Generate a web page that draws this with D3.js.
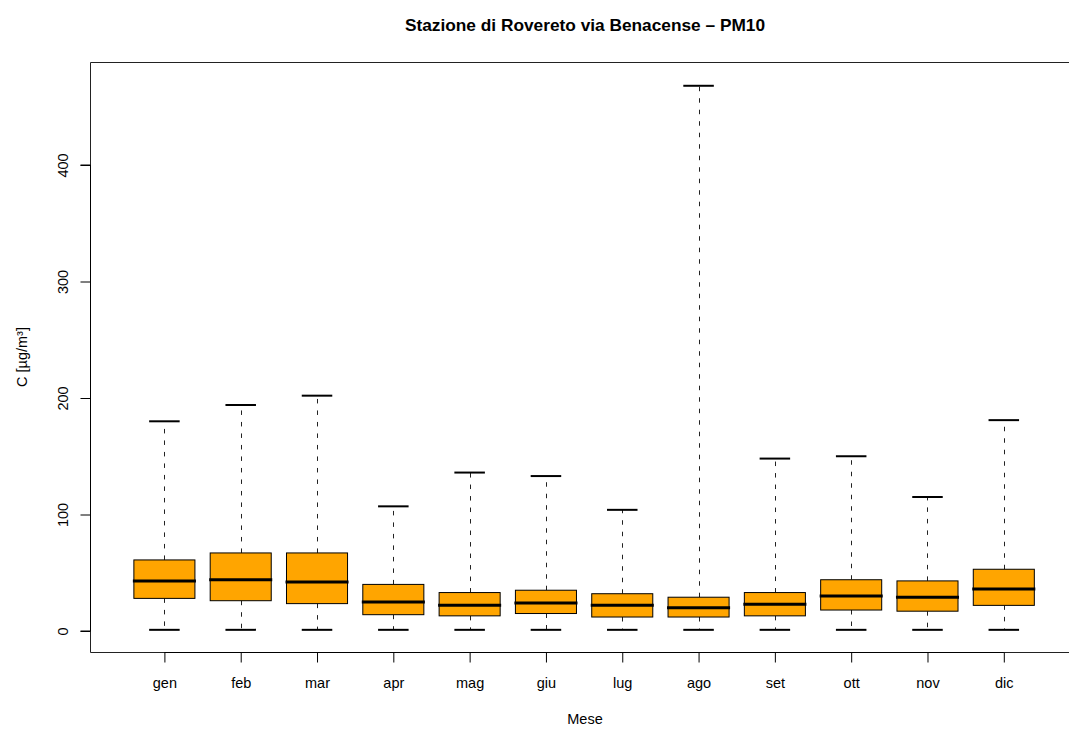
<!DOCTYPE html>
<html>
<head>
<meta charset="utf-8">
<script src="https://cdn.jsdelivr.net/npm/d3@7"></script>
<style>
body{margin:0;background:#fff;overflow:hidden;}
svg{display:block;font-family:"Liberation Sans",Arial,sans-serif;}
</style>
</head>
<body>
<div class="chart"></div>
<script>
//Box statistics (C in µg/m³)
const months = ['gen','feb','mar','apr','mag','giu','lug','ago','set','ott','nov','dic'];
const whiskerLow = [1,1,1,1,1,1,1,1,1,1,1,1];
const q1 = [28,26,23.5,14,13,15,12,12,13,18,17,22];
const median = [43,44,42,25,22,24,22,20,23,30,29,36];
const q3 = [61,67,67,40,33,35,32,29,33,44,43,53];
const whiskerHigh = [180,194,202,107,136,133,104,468,148,150,115,181];
const yTicks = [0,100,200,300,400];

const W = 1069, H = 731;
const frame = {l:90, t:62, r:1080, b:652};

const svg = d3.select('.chart')
	.append('svg')
		.attr('width', W)
		.attr('height', H);

const boxes = months.map(function(m,i){
	return {month:m, idx:i+1, lo:whiskerLow[i], q1:q1[i], med:median[i], q3:q3[i], hi:whiskerHigh[i]};
});

const x = d3.scaleLinear().domain([1,12]).range([164.4,1003.8]);
const y = d3.scaleLinear().domain([0,400]).range([631,165]);
const unit = x(2) - x(1);
const boxW = unit*0.8;
const capW = unit*0.4;

//whiskers
const g = svg.append('g');
const b = g.selectAll('.box').data(boxes).enter().append('g').attr('class','box');

b.append('line')
	.attr('x1', d => Math.round(x(d.idx))+0.5).attr('x2', d => Math.round(x(d.idx))+0.5)
	.attr('y1', d => y(d.q3)).attr('y2', d => y(d.hi))
	.attr('stroke','#222').attr('stroke-dasharray','4.5,7');
b.append('line')
	.attr('x1', d => Math.round(x(d.idx))+0.5).attr('x2', d => Math.round(x(d.idx))+0.5)
	.attr('y1', d => y(d.q1)).attr('y2', d => y(d.lo))
	.attr('stroke','#222').attr('stroke-dasharray','4.5,7');

//caps
['hi','lo'].forEach(function(k){
	b.append('line')
		.attr('x1', d => x(d.idx)-capW/2).attr('x2', d => x(d.idx)+capW/2)
		.attr('y1', d => y(d[k])).attr('y2', d => y(d[k]))
		.attr('stroke','#000').attr('stroke-width',2);
});

//boxes
b.append('rect')
	.attr('x', d => x(d.idx)-boxW/2)
	.attr('width', boxW)
	.attr('y', d => y(d.q3))
	.attr('height', d => y(d.q1)-y(d.q3))
	.attr('fill','#FFA500')
	.attr('stroke','#000')
	.attr('stroke-width',1);

b.append('line')
	.attr('x1', d => x(d.idx)-boxW/2-1).attr('x2', d => x(d.idx)+boxW/2+1)
	.attr('y1', d => y(d.med)).attr('y2', d => y(d.med))
	.attr('stroke','#000').attr('stroke-width',3);

//frame (right side falls outside the picture)
svg.append('path')
	.attr('d', `M${W+5},${frame.t+0.5}H${frame.l+0.5}V${frame.b+0.5}H${W+5}`)
	.attr('fill','none').attr('stroke','#222').attr('stroke-width',1);

//axes
const yAxis = svg.append('g')
	.attr('transform', `translate(${frame.l+0.5},0)`)
	.call(d3.axisLeft(y).tickValues(yTicks).tickSize(10).tickFormat(d3.format('d')));
yAxis.select('.domain').attr('d', `M-10,${y(0)}H0M0,${y(0)}V${y(400)}M-10,${y(400)}H0`);
yAxis.selectAll('.tick text')
	.attr('x', null).attr('dy', null)
	.attr('text-anchor','middle')
	.attr('transform','translate(-23,0) rotate(-90)')
	.style('font-size','14.5px')
	.style('font-family','"Liberation Sans",Arial,sans-serif')
	.attr('fill','#000');

const xAxis = svg.append('g')
	.attr('transform', `translate(0,${frame.b+0.5})`)
	.call(d3.axisBottom(x).tickValues(boxes.map(d => d.idx)).tickSize(10).tickFormat(function(d){return months[d-1];}));
xAxis.select('.domain').attr('d', `M${x(1)},0H${x(12)}`);
xAxis.selectAll('.tick text')
	.attr('y', 35.5).attr('dy', null)
	.style('font-size','14.5px')
	.style('font-family','"Liberation Sans",Arial,sans-serif')
	.attr('fill','#000');

//titles
svg.append('text')
	.attr('x', (frame.l+frame.r)/2).attr('y', 31)
	.attr('text-anchor','middle')
	.style('font-size','17.3px').style('font-weight','bold')
	.text('Stazione di Rovereto via Benacense – PM10');

svg.append('text')
	.attr('x', (frame.l+frame.r)/2).attr('y', 724)
	.attr('text-anchor','middle')
	.style('font-size','14.5px')
	.text('Mese');

svg.append('text')
	.attr('transform', `translate(27,${(frame.t+frame.b)/2}) rotate(-90)`)
	.attr('text-anchor','middle')
	.style('font-size','14.5px')
	.text('C [µg/m³]');
</script>
</body>
</html>
